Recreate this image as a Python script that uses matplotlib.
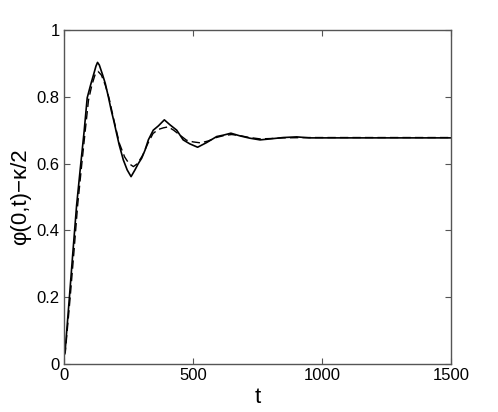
import numpy as np
import matplotlib as mpl
mpl.use('Agg')
import matplotlib.pyplot as plt

plt.rcParams['font.family'] = ['Liberation Sans', 'DejaVu Sans']

# solid curve
t_solid = [0, 4, 21, 35, 49, 65, 78, 90, 103, 116, 124, 130, 137, 150, 160, 172,
           183, 194, 204, 214, 230, 245, 260, 275, 288, 301, 314, 327, 346, 366,
           389, 411, 437, 450, 462, 488, 518, 553, 592, 617, 647, 682, 721, 760,
           800, 850, 902, 950, 1000, 1100, 1200, 1300, 1400, 1500]
y_solid = [0.025, 0.035, 0.20, 0.34, 0.476, 0.599, 0.696, 0.797, 0.835, 0.870,
           0.892, 0.903, 0.895, 0.865, 0.84, 0.80, 0.76, 0.725, 0.69, 0.656,
           0.611, 0.581, 0.561, 0.581, 0.60, 0.616, 0.64, 0.671, 0.70, 0.713,
           0.731, 0.716, 0.70, 0.685, 0.671, 0.659, 0.649, 0.663, 0.681, 0.685,
           0.691, 0.683, 0.676, 0.671, 0.674, 0.678, 0.680, 0.677, 0.677, 0.677,
           0.677, 0.677, 0.677, 0.677]

# dashed curve
t_dash = [0, 5, 24, 39, 53, 69, 82, 95, 108, 120, 132, 145, 160, 175, 195, 215,
          235, 252, 269, 285, 305, 325, 345, 365, 385, 404, 425, 450, 475, 500,
          530, 560, 590, 620, 650, 680, 720, 760, 800, 850, 950, 1100, 1300, 1500]
y_dash = [0.025, 0.035, 0.20, 0.34, 0.476, 0.599, 0.696, 0.79, 0.835, 0.865,
          0.876, 0.865, 0.835, 0.795, 0.725, 0.66, 0.62, 0.60, 0.591, 0.60,
          0.625, 0.66, 0.69, 0.702, 0.707, 0.710, 0.70, 0.685, 0.67, 0.665,
          0.662, 0.668, 0.678, 0.684, 0.687, 0.684, 0.678, 0.674, 0.675, 0.677,
          0.678, 0.678, 0.678, 0.678]

xticks = [0, 500, 1000, 1500]
yticks = [0, 0.2, 0.4, 0.6, 0.8, 1]
ytick_labels = ['0', '0.2', '0.4', '0.6', '0.8', '1']

fig = plt.figure(figsize=(4.98, 4.12), dpi=100)
ax = fig.add_axes([0.1285, 0.1165, 0.777, 0.8107])

ax.plot(t_solid, y_solid, color='black', lw=1.2, ls='-')
ax.plot(t_dash, y_dash, color='black', lw=1.0, ls=(0, (6, 3)))

ax.set_xlim(0, 1500)
ax.set_ylim(0, 1)
ax.set_xticks(xticks)
ax.set_xticklabels([str(v) for v in xticks])
ax.set_yticks(yticks)
ax.set_yticklabels(ytick_labels)

for s in ax.spines.values():
    s.set_color('#555555')
    s.set_linewidth(1.0)
ax.tick_params(direction='in', length=4, width=0.8, color='#555555',
               top=True, right=True, labelsize=12, pad=3)

ax.set_xlabel('t', fontsize=16, labelpad=3)
ax.set_ylabel('φ(0,t)−κ/2', fontsize=16, labelpad=4)

fig.savefig('out.png', dpi=100)
